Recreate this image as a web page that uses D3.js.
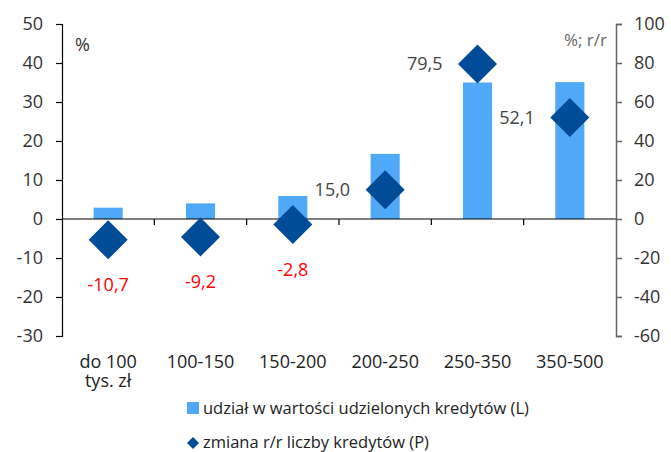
<!DOCTYPE html>
<html>
<head>
<meta charset="utf-8">
<script src="https://cdn.jsdelivr.net/npm/d3@7"></script>
<style>
  body { margin: 0; background: #fff; }
  svg { display: block; font-family: "Open Sans", sans-serif; }
</style>
</head>
<body>
<svg id="chart"></svg>
<script>
var categories = ["do 100|tys. zł", "100-150", "150-200", "200-250", "250-350", "350-500"];
var shareValues = [2.9, 4.0, 5.9, 16.7, 35.0, 35.1];
var changeValues = [-10.7, -9.2, -2.8, 15.0, 79.5, 52.1];
var leftTicks = [-30, -20, -10, 0, 10, 20, 30, 40, 50];
var rightTicks = [-60, -40, -20, 0, 20, 40, 60, 80, 100];
var legendLabels = ["udział w wartości udzielonych kredytów (L)", "zmiana r/r liczby kredytów (P)"];

var width = 671;
var height = 452;
var margin = {top: 24, right: 55, bottom: 116, left: 62};
var barColor = "#4fa9f8";
var diamondColor = "#004c98";

// plain hyphen instead of unicode minus, like the original
var fmtTick = d => String(d);

var svg = d3.select("#chart").attr("width", width).attr("height", height);

var x = d3.scaleBand()
  .domain(categories)
  .range([margin.left, width - margin.right])
  .paddingInner(0.685)
  .paddingOuter(0.3425);

var band = d3.scaleBand().domain(categories).range([margin.left, width - margin.right]);

var yL = d3.scaleLinear().domain([-30, 50]).range([height - margin.bottom, margin.top]);
var yR = d3.scaleLinear().domain([-60, 100]).range([height - margin.bottom, margin.top]);

// bars
svg.append("g")
  .selectAll("rect")
  .data(shareValues)
  .enter()
  .append("rect")
  .attr("x", (d, i) => x(categories[i]))
  .attr("width", x.bandwidth())
  .attr("y", d => yL(d))
  .attr("height", d => yL(0) - yL(d))
  .attr("fill", barColor);

// zero line with category separators
var zero = svg.append("g");
zero.append("line")
  .attr("x1", margin.left).attr("x2", width - margin.right)
  .attr("y1", yL(0)).attr("y2", yL(0))
  .attr("stroke", "#000").attr("stroke-width", 1.2);
zero.selectAll(".sep")
  .data(categories.slice(1))
  .enter()
  .append("line")
  .attr("x1", d => band(d)).attr("x2", d => band(d))
  .attr("y1", yL(0)).attr("y2", yL(0) + 6)
  .attr("stroke", "#000").attr("stroke-width", 1.2);

// diamonds
var half = 19.5;
svg.append("g")
  .selectAll("path")
  .data(changeValues)
  .enter()
  .append("path")
  .attr("d", (d, i) => {
    var cx = band(categories[i]) + band.bandwidth() / 2;
    var cy = yR(d);
    return "M" + cx + "," + (cy - half) + "L" + (cx + half) + "," + cy +
      "L" + cx + "," + (cy + half) + "L" + (cx - half) + "," + cy + "Z";
  })
  .attr("fill", diamondColor);

// data labels
svg.append("g")
  .selectAll("text")
  .data(changeValues)
  .enter()
  .append("text")
  .attr("x", (d, i) => {
    var cx = band(categories[i]) + band.bandwidth() / 2;
    return d < 0 ? cx : cx - 35;
  })
  .attr("y", d => d < 0 ? yR(d) + 45 : yR(d))
  .attr("dy", "0.35em")
  .attr("text-anchor", d => d < 0 ? "middle" : "end")
  .attr("fill", d => d < 0 ? "#ff0000" : "#444")
  .style("font-size", "18px")
  .text(d => d.toFixed(1).replace(".", ","));

// axes
var leftAxis = svg.append("g")
  .attr("transform", "translate(" + margin.left + ",0)")
  .call(d3.axisLeft(yL).tickValues(leftTicks).tickFormat(fmtTick).tickSize(6).tickPadding(13));
leftAxis.selectAll("path, line").attr("stroke", "#000").attr("stroke-width", 1.2);
leftAxis.selectAll("text").attr("fill", "#333").style("font-size", "18px").style("font-family", "Open Sans");

var rightAxis = svg.append("g")
  .attr("transform", "translate(" + (width - margin.right) + ",0)")
  .call(d3.axisRight(yR).tickValues(rightTicks).tickFormat(fmtTick).tickSize(6).tickPadding(12));
rightAxis.selectAll("path, line").attr("stroke", "#666").attr("stroke-width", 1.5);
rightAxis.selectAll("text").attr("fill", "#333").style("font-size", "18px").style("font-family", "Open Sans");

// unit labels
svg.append("text").attr("x", 75).attr("y", 45).attr("dy", "0.35em")
  .attr("fill", "#333").style("font-size", "18px").text("%");
svg.append("text").attr("x", 607).attr("y", 40).attr("dy", "0.35em")
  .attr("text-anchor", "end").attr("fill", "#666").style("font-size", "17px").text("%; r/r");

// category labels
var cat = svg.append("g")
  .selectAll("text")
  .data(categories)
  .enter()
  .append("text")
  .attr("x", d => band(d) + band.bandwidth() / 2)
  .attr("y", 362)
  .attr("text-anchor", "middle")
  .attr("fill", "#222")
  .style("font-size", "18px");
cat.each(function (d) {
  var parts = d.split("|");
  var t = d3.select(this);
  parts.forEach((p, j) => {
    t.append("tspan")
      .attr("x", band(d) + band.bandwidth() / 2)
      .attr("dy", j === 0 ? "0.35em" : "1.05em")
      .text(p);
  });
});

// legend
var legend = svg.append("g");
legend.append("rect").attr("x", 187).attr("y", 402).attr("width", 12).attr("height", 12).attr("fill", barColor);
legend.append("path")
  .attr("d", "M193,437L199,443L193,449L187,443Z")
  .attr("fill", diamondColor);
legend.selectAll("text")
  .data(legendLabels)
  .enter()
  .append("text")
  .attr("x", 203)
  .attr("y", (d, i) => 408 + i * 34)
  .attr("dy", "0.35em")
  .attr("fill", "#222")
  .style("font-size", "16.5px")
  .text(d => d);
</script>
</body>
</html>
